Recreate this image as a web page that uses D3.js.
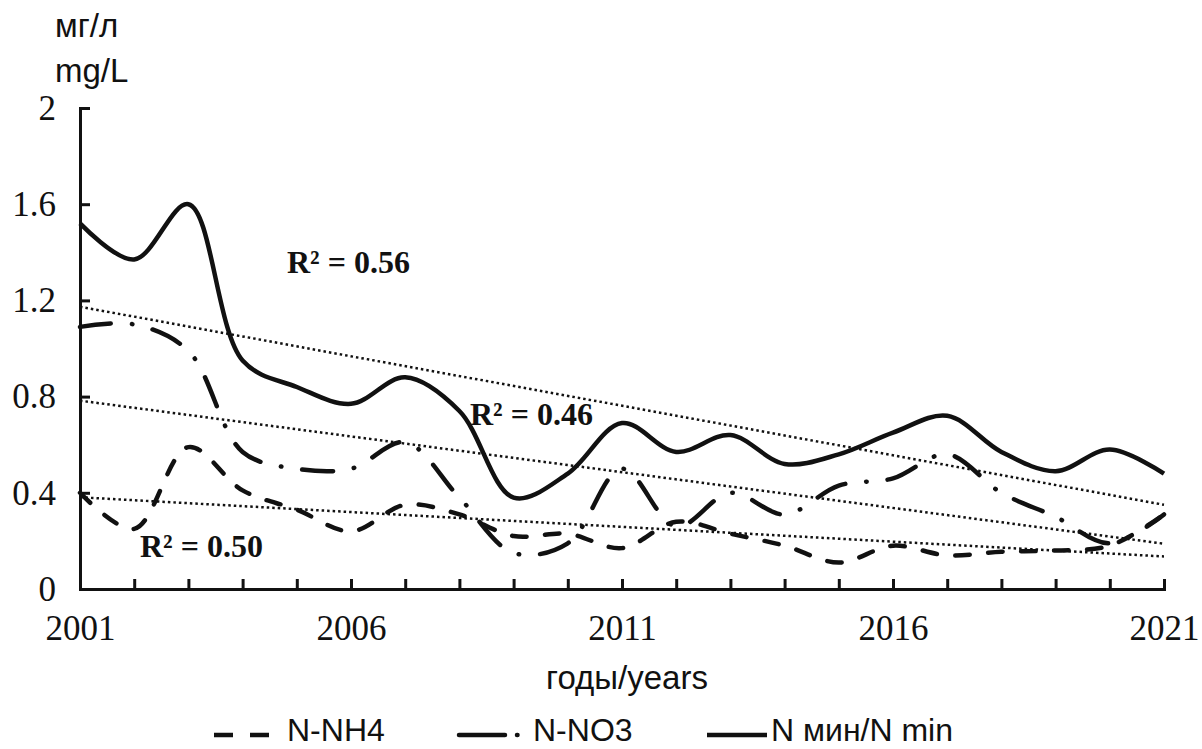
<!DOCTYPE html>
<html lang="ru">
  <head>
    <meta charset="UTF-8" />
    <script src="https://d3js.org/d3.v7.min.js"></script>
    <title>N-NH4, N-NO3, N min</title>
    <style>
      body {
        margin: 0;
        background: #fff;
      }
      .axis path, .axis line {
        stroke: #111;
        stroke-width: 3;
      }
      .axis text {
        font-family: 'Liberation Serif', 'DejaVu Serif', serif;
        font-size: 35px;
        fill: #111;
      }
      .sans {
        font-family: 'Liberation Sans', Arial, sans-serif;
        font-size: 33px;
        fill: #111;
      }
      .legend-text {
        font-family: 'Liberation Sans', Arial, sans-serif;
        font-size: 32px;
        fill: #111;
      }
      .r2 {
        font-family: 'Liberation Serif', 'DejaVu Serif', serif;
        font-size: 32px;
        font-weight: bold;
        fill: #111;
      }
      .series {
        fill: none;
        stroke: #111;
        stroke-width: 4.5;
      }
      .trend {
        fill: none;
        stroke: #111;
        stroke-width: 2.5;
        stroke-dasharray: 2.5, 3;
      }
    </style>
  </head>
  <body>
    <script>
      const years = [2001, 2002, 2003, 2004, 2005, 2006, 2007, 2008, 2009, 2010, 2011,
        2012, 2013, 2014, 2015, 2016, 2017, 2018, 2019, 2020, 2021]
      const nh4 = [0.40, 0.25, 0.59, 0.41, 0.33, 0.24, 0.35, 0.31, 0.22, 0.23, 0.17,
        0.28, 0.23, 0.18, 0.11, 0.18, 0.14, 0.155, 0.16, 0.18, 0.31]
      const no3 = [1.09, 1.10, 0.99, 0.57, 0.50, 0.50, 0.61, 0.38, 0.15, 0.19, 0.50,
        0.26, 0.40, 0.31, 0.43, 0.46, 0.56, 0.40, 0.30, 0.19, 0.31]
      const nMin = [1.52, 1.37, 1.60, 0.95, 0.84, 0.77, 0.88, 0.74, 0.38, 0.48, 0.69,
        0.57, 0.64, 0.52, 0.56, 0.65, 0.72, 0.57, 0.49, 0.58, 0.48]
      const yTicks = [0, 0.4, 0.8, 1.2, 1.6, 2]
      const xLabelYears = [2001, 2006, 2011, 2016, 2021]
      const r2Texts = ['R² = 0.56', 'R² = 0.46', 'R² = 0.50']
      const legendNames = ['N-NH4', 'N-NO3', 'N мин/N min']

      const width = 1202
      const height = 749

      const svg = d3.select('body')
        .append('svg')
        .attr('width', width)
        .attr('height', height)

      const x = d3.scaleLinear().domain([2001, 2021]).range([80, 1164])
      const y = d3.scaleLinear().domain([0, 2]).range([589, 108])

      // axes: ticks point inwards
      svg.append('g')
        .attr('class', 'axis')
        .attr('transform', 'translate(0,' + y(0) + ')')
        .call(d3.axisBottom(x)
          .tickValues(years)
          .tickSize(-10)
          .tickSizeOuter(0)
          .tickPadding(26)
          .tickFormat(d => xLabelYears.includes(d) ? d : ''))

      svg.append('g')
        .attr('class', 'axis')
        .attr('transform', 'translate(' + x(2001) + ',0)')
        .call(d3.axisLeft(y)
          .tickValues(yTicks)
          .tickSize(-10)
          .tickSizeOuter(0)
          .tickPadding(24)
          .tickFormat(d => String(d)))

      svg.selectAll('.axis path').attr('stroke-linecap', 'square')

      // linear trend lines
      function fit(vals) {
        const mx = d3.mean(years)
        const my = d3.mean(vals)
        const sxy = d3.sum(years, (t, i) => (t - mx) * (vals[i] - my))
        const sxx = d3.sum(years, t => (t - mx) * (t - mx))
        const b = sxy / sxx
        return t => my + b * (t - mx)
      }

      ;[nMin, no3, nh4].forEach(vals => {
        const f = fit(vals)
        svg.append('line')
          .attr('class', 'trend')
          .attr('x1', x(2001))
          .attr('y1', y(f(2001)))
          .attr('x2', x(2021))
          .attr('y2', y(f(2021)))
      })

      const line = d3.line()
        .x((d, i) => x(years[i]))
        .y(d => y(d))
        .curve(d3.curveCatmullRom.alpha(0.5))

      svg.append('path')
        .attr('class', 'series')
        .attr('d', line(nh4))
        .attr('stroke-linecap', 'round')
        .attr('stroke-dasharray', '14.5,18.5')

      svg.append('path')
        .attr('class', 'series')
        .attr('d', line(no3))
        .attr('stroke-linecap', 'round')
        .attr('stroke-dasharray', '31,21,0.5,21')

      svg.append('path')
        .attr('class', 'series')
        .attr('d', line(nMin))
        .attr('stroke-linejoin', 'round')

      // R² labels
      const r2Pos = [[287, 273], [470, 425], [140, 557]]
      svg.selectAll('.r2')
        .data(r2Texts)
        .join('text')
        .attr('class', 'r2')
        .attr('x', (d, i) => r2Pos[i][0])
        .attr('y', (d, i) => r2Pos[i][1])
        .text(d => d)

      // axis titles
      svg.append('text').attr('class', 'sans').attr('x', 55).attr('y', 37).text('мг/л')
      svg.append('text').attr('class', 'sans').attr('x', 55).attr('y', 82).text('mg/L')
      svg.append('text').attr('class', 'sans')
        .attr('x', 627).attr('y', 689)
        .attr('text-anchor', 'middle')
        .text('годы/years')

      // legend
      const ly = 735
      const legend = svg.append('g')
      legend.append('line')
        .attr('x1', 214).attr('x2', 270).attr('y1', ly).attr('y2', ly)
        .attr('class', 'series')
        .attr('stroke-dasharray', '19,17')
      legend.append('line')
        .attr('x1', 459).attr('x2', 520).attr('y1', ly).attr('y2', ly)
        .attr('class', 'series')
        .attr('stroke-linecap', 'round')
        .attr('stroke-dasharray', '46,12,0.5,40')
      legend.append('line')
        .attr('x1', 707).attr('x2', 767).attr('y1', ly).attr('y2', ly)
        .attr('class', 'series')
      legend.selectAll('text')
        .data(legendNames)
        .join('text')
        .attr('class', 'legend-text')
        .attr('x', (d, i) => [287, 533, 771][i])
        .attr('y', 741)
        .text(d => d)
    </script>
  </body>
</html>
